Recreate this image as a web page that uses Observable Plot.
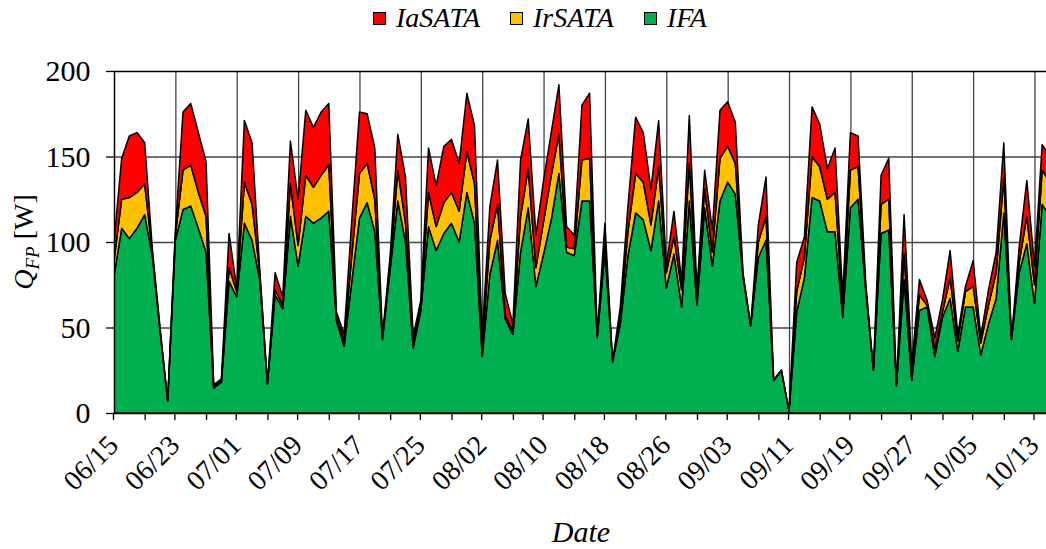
<!DOCTYPE html>
<html><head><meta charset="utf-8">
<script src="https://cdn.jsdelivr.net/npm/d3@7"></script>
<script src="https://cdn.jsdelivr.net/npm/@observablehq/plot@0.6"></script>
<style>
body{margin:0;background:#fff;}
#wrap{position:relative;width:1046px;height:549px;font-family:"Liberation Serif","Times New Roman",serif;overflow:hidden;}
#legend{position:absolute;left:373px;top:1px;display:flex;align-items:center;height:34px;font-style:italic;font-size:28px;color:#000;z-index:2;}
.item{display:flex;align-items:center;margin-right:30px;}
.sw{width:11px;height:11px;border:1px solid #000;margin-right:10px;}
#chart{position:absolute;left:0;top:0;}
</style></head><body><div id="wrap"><div id="legend"></div><div id="chart"></div></div>
<script>
const startDate = "2021-06-15";
const seriesNames = ["IaSATA", "IrSATA", "IFA"];
const seriesColors = ["#FF0000", "#FFC000", "#00B050"];
const stackOrder = ["IFA", "IrSATA", "IaSATA"];

const IFA = [80,108,102,108,116,92,48,7,101,119,121,108,94,14.5,18,77,68,111,101,78,
  17,69,61,115,86,115,111,114,118,54,39,77,114,123,106,43,84,124,100,38,
  60,109,95,105,111,100,129,111,33,81,101,55,46,94,120,74,93,113,140,94,
  92,124,124,44,95,30,52,92,117,113,95,124,73,93,62,124,63,120,86,124,
  135,128,80,51,91,101,19,25,1,59,79,126,124,106,106,56,120,125,72,25,
  105,107,16,78,19,60,62,33,56,67,36,62,62,34,52,67,117,43,82,99,
  64,122,115];
const IrSATA = [9,17,24,21,18,2,1,0,3,23,24,21,21,1,1,8,3,24,21,4,
  0,3,2,19,12,24,21,25,27,2,3,15,26,23,19,1,3,18,11,3,
  3,20,14,18,18,18,24,23,5,20,21,2,2,21,23,11,19,26,23,3,
  4,24,25,1,7,0,4,14,23,22,15,20,9,10,10,22,5,11,8,25,
  21,18,1,0,9,14,0,0,0,12,12,24,20,19,23,6,22,19,2,0,
  17,18,0,15,3,9,1,4,3,12,6,9,12,7,11,15,21,0,6,16,
  11,20,20];
const IaSATA = [11,24,36,35,24,2,1,0,3,34,36,35,32,1,1,20,2,36,36,2,
  0,10,5,25,27,38,35,37,36,3,4,21,36,29,30,1,5,21,27,4,
  3,26,24,33,31,28,34,34,7,20,26,13,4,33,29,19,24,25,29,12,
  8,32,38,1,9,0,6,15,33,29,21,27,4,15,5,28,4,11,13,28,
  26,24,1,0,10,23,0,0,0,17,12,29,25,18,26,6,22,18,2,0,
  17,24,0,23,6,9,3,7,7,16,4,3,15,4,9,12,20,0,9,21,
  11,15,15];

const xTickLabels = ["06/15","06/23","07/01","07/09","07/17","07/25","08/02","08/10",
  "08/18","08/26","09/03","09/11","09/19","09/27","10/05","10/13"];
const yTicks = [0, 50, 100, 150, 200];
const yGrid = [50, 100, 150];

const FONT = '"Liberation Serif","Times New Roman",serif';
const DAY = 864e5;
const t0 = new Date(startDate + "T00:00:00Z");
const year = startDate.slice(0, 4);
const parseLabel = d3.utcParse("%Y/%m/%d");
const labelDates = xTickLabels.map(l => parseLabel(year + "/" + l));
const minorDates = labelDates.map(d => d3.utcDay.offset(d, 4));
const tEnd = new Date(t0.getTime() + 121.5 * DAY);

const seriesData = {IFA, IrSATA, IaSATA};
const rows = [];
for (const name of stackOrder) {
  seriesData[name].forEach((v, i) => rows.push({date: d3.utcDay.offset(t0, i), series: name, value: v}));
}

const plot = Plot.plot({
  width: 1046, height: 549,
  marginLeft: 114, marginRight: 0, marginTop: 71, marginBottom: 136,
  style: {fontFamily: FONT, fontSize: "29px", background: "transparent", color: "#000"},
  x: {type: "utc", domain: [t0, tEnd]},
  y: {domain: [0, 200]},
  color: {domain: seriesNames, range: seriesColors},
  marks: [
    Plot.gridX(labelDates.slice(1), {stroke: "#444", strokeOpacity: 1, strokeWidth: 1.3}),
    Plot.gridY(yGrid, {stroke: "#444", strokeOpacity: 1, strokeWidth: 1.3}),
    Plot.areaY(rows, Plot.stackY({x: "date", y: "value", z: "series", fill: "series",
      order: stackOrder, stroke: "#000", strokeWidth: 1.5, clip: true})),
    Plot.ruleY([200], {stroke: "#000", strokeWidth: 1.5}),
    Plot.ruleY([0], {stroke: "#000", strokeWidth: 1.5}),
    Plot.ruleX([t0], {stroke: "#000", strokeWidth: 1.5}),
    Plot.axisX(minorDates, {tickSize: 7, tickFormat: () => "", stroke: "#000", strokeWidth: 1.3, label: null}),
    Plot.axisX(labelDates, {tickSize: 7, tickFormat: d3.utcFormat("%m/%d"), tickRotate: -45, fontSize: 28,
      tickPadding: 20, dx: -1, stroke: "#000", strokeWidth: 1.3, label: null}),
    Plot.axisY(yTicks, {tickSize: 8, tickPadding: 16, fontSize: 30, stroke: "#000", strokeWidth: 1.3, label: null})
  ]
});

const svg = d3.select(plot);
const yl = svg.append("text")
  .attr("transform", "translate(33,242) rotate(-90)")
  .attr("text-anchor", "middle")
  .attr("font-size", 28)
  .attr("font-family", FONT)
  .attr("fill", "#000");
yl.append("tspan").attr("font-style", "italic").text("Q");
yl.append("tspan").attr("font-style", "italic").attr("font-size", 19).attr("dy", 6).text("FP");
yl.append("tspan").attr("dy", -6).text(" [W]");

svg.append("text")
  .attr("x", 581).attr("y", 542)
  .attr("text-anchor", "middle")
  .attr("font-style", "italic")
  .attr("font-size", 30)
  .attr("font-family", FONT)
  .attr("fill", "#000")
  .text("Date");

document.getElementById("chart").appendChild(plot);

const legend = d3.select("#legend");
seriesNames.forEach((name, i) => {
  const item = legend.append("div").attr("class", "item");
  item.append("div").attr("class", "sw").style("background", seriesColors[i]);
  item.append("span").text(name);
});
</script>
</body></html>
